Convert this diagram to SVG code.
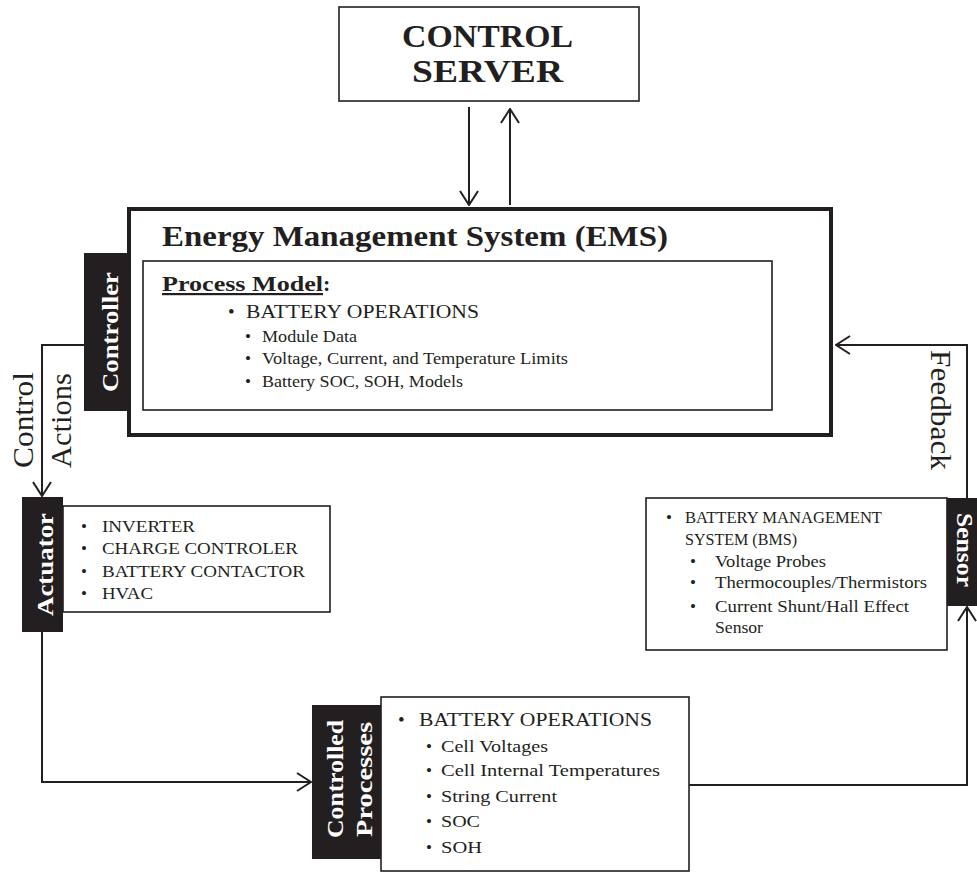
<svg xmlns="http://www.w3.org/2000/svg" width="977" height="873" viewBox="0 0 977 873">
<style>
text{font-family:"Liberation Serif","Times New Roman",serif;fill:#231f20}
.box{fill:#fff;stroke:#231f20;stroke-width:1.6}
.tab{fill:#231f20}
.tt{font-weight:bold;fill:#fff;font-size:23px}
.li{font-size:17px}
.lb{font-size:19px}
.con{fill:none;stroke:#231f20;stroke-width:2}
.lbl{font-size:29px}
</style>
<defs>
<marker id="arr" viewBox="0 0 16 20" refX="15" refY="10" markerWidth="16" markerHeight="20" markerUnits="userSpaceOnUse" orient="auto">
<path d="M1,1 L15,10 L1,19" fill="none" stroke="#231f20" stroke-width="2"/>
</marker>
</defs>

<g id="connectors">
<line class="con" x1="469" y1="107" x2="469" y2="205" marker-end="url(#arr)"/>
<line class="con" x1="510" y1="205" x2="510" y2="109" marker-end="url(#arr)"/>
<polyline class="con" points="84,345 42,345 42,496" marker-end="url(#arr)"/>
<polyline class="con" points="42,632 42,782 311,782" marker-end="url(#arr)"/>
<polyline class="con" points="689,785 967,785 967,607" marker-end="url(#arr)"/>
<polyline class="con" points="967,498 967,345 836,345" marker-end="url(#arr)"/>
<text class="lbl" transform="translate(33,468) rotate(-90)" textLength="96" lengthAdjust="spacingAndGlyphs">Control</text>
<text class="lbl" transform="translate(71,468) rotate(-90)" textLength="95" lengthAdjust="spacingAndGlyphs">Actions</text>
<text class="lbl" transform="translate(931,350) rotate(90)" textLength="120" lengthAdjust="spacingAndGlyphs">Feedback</text>
</g>

<g id="control-server">
<rect class="box" x="339" y="7" width="300" height="94"/>
<text x="402" y="47" font-size="31" font-weight="bold" textLength="171" lengthAdjust="spacingAndGlyphs">CONTROL</text>
<text x="412" y="82" font-size="31" font-weight="bold" textLength="151" lengthAdjust="spacingAndGlyphs">SERVER</text>
</g>

<g id="ems">
<rect x="129" y="209" width="702" height="226" fill="#fff" stroke="#231f20" stroke-width="4"/>
<text x="162" y="246" font-size="29" font-weight="bold" textLength="506" lengthAdjust="spacingAndGlyphs">Energy Management System (EMS)</text>
<rect class="box" x="143" y="261" width="629" height="149"/>
<text x="162" y="291" font-size="22" font-weight="bold" textLength="161" lengthAdjust="spacingAndGlyphs" text-decoration="underline">Process Model</text>
<text x="323" y="291" font-size="22" font-weight="bold">:</text>
<text class="lb" x="228" y="318">•</text>
<text class="lb" x="246" y="318" textLength="233" lengthAdjust="spacingAndGlyphs">BATTERY OPERATIONS</text>
<text class="li" x="245" y="342">•</text>
<text class="li" x="262" y="342" textLength="95" lengthAdjust="spacingAndGlyphs">Module Data</text>
<text class="li" x="245" y="364">•</text>
<text class="li" x="262" y="364" textLength="306" lengthAdjust="spacingAndGlyphs">Voltage, Current, and Temperature Limits</text>
<text class="li" x="245" y="387">•</text>
<text class="li" x="262" y="387" textLength="201" lengthAdjust="spacingAndGlyphs">Battery SOC, SOH, Models</text>
</g>

<g id="controller">
<rect class="tab" x="84" y="253" width="45" height="158"/>
<text class="tt" transform="translate(118,392) rotate(-90)" textLength="120" lengthAdjust="spacingAndGlyphs">Controller</text>
</g>

<g id="actuator">
<rect class="box" x="63" y="506" width="267" height="106"/>
<rect class="tab" x="22" y="497" width="41" height="135"/>
<text class="tt" font-size="21" transform="translate(53,616) rotate(-90)" textLength="103" lengthAdjust="spacingAndGlyphs">Actuator</text>
<text class="li" x="81" y="532">•</text>
<text class="li" x="102" y="532" textLength="93" lengthAdjust="spacingAndGlyphs">INVERTER</text>
<text class="li" x="81" y="554">•</text>
<text class="li" x="102" y="554" textLength="196" lengthAdjust="spacingAndGlyphs">CHARGE CONTROLER</text>
<text class="li" x="81" y="577">•</text>
<text class="li" x="102" y="577" textLength="203" lengthAdjust="spacingAndGlyphs">BATTERY CONTACTOR</text>
<text class="li" x="81" y="599">•</text>
<text class="li" x="102" y="599" textLength="51" lengthAdjust="spacingAndGlyphs">HVAC</text>
</g>

<g id="controlled-processes">
<rect class="box" x="381" y="697" width="308" height="174"/>
<rect class="tab" x="312" y="705" width="69" height="154"/>
<text class="tt" transform="translate(343,838) rotate(-90)" textLength="118" lengthAdjust="spacingAndGlyphs">Controlled</text>
<text class="tt" transform="translate(372,837) rotate(-90)" textLength="115" lengthAdjust="spacingAndGlyphs">Processes</text>
<text class="lb" x="398" y="726">•</text>
<text class="lb" x="419" y="726" textLength="233" lengthAdjust="spacingAndGlyphs">BATTERY OPERATIONS</text>
<text class="li" font-size="18" x="426" y="752">•</text>
<text class="li" font-size="18" x="441" y="752" textLength="107" lengthAdjust="spacingAndGlyphs">Cell Voltages</text>
<text class="li" font-size="18" x="426" y="776">•</text>
<text class="li" font-size="18" x="441" y="776" textLength="219" lengthAdjust="spacingAndGlyphs">Cell Internal Temperatures</text>
<text class="li" font-size="18" x="426" y="802">•</text>
<text class="li" font-size="18" x="441" y="802" textLength="116" lengthAdjust="spacingAndGlyphs">String Current</text>
<text class="li" font-size="18" x="426" y="827">•</text>
<text class="li" font-size="18" x="441" y="827" textLength="39" lengthAdjust="spacingAndGlyphs">SOC</text>
<text class="li" font-size="18" x="426" y="853">•</text>
<text class="li" font-size="18" x="441" y="853" textLength="41" lengthAdjust="spacingAndGlyphs">SOH</text>
</g>

<g id="sensor">
<rect class="box" x="646" y="498" width="301" height="152"/>
<rect class="tab" x="947" y="498" width="30" height="108"/>
<text class="tt" font-size="21" transform="translate(957,513) rotate(90)" textLength="74" lengthAdjust="spacingAndGlyphs">Sensor</text>
<text class="li" font-size="15" x="666" y="523">•</text>
<text class="li" font-size="15" x="685" y="523" textLength="197" lengthAdjust="spacingAndGlyphs">BATTERY MANAGEMENT</text>
<text class="li" font-size="15" x="685" y="545" textLength="112" lengthAdjust="spacingAndGlyphs">SYSTEM (BMS)</text>
<text class="li" font-size="18" x="690" y="567">•</text>
<text class="li" font-size="18" x="715" y="567" textLength="111" lengthAdjust="spacingAndGlyphs">Voltage Probes</text>
<text class="li" font-size="18" x="690" y="588">•</text>
<text class="li" font-size="18" x="715" y="588" textLength="212" lengthAdjust="spacingAndGlyphs">Thermocouples/Thermistors</text>
<text class="li" font-size="18" x="690" y="612">•</text>
<text class="li" font-size="18" x="715" y="612" textLength="194" lengthAdjust="spacingAndGlyphs">Current Shunt/Hall Effect</text>
<text class="li" font-size="18" x="715" y="633" textLength="48" lengthAdjust="spacingAndGlyphs">Sensor</text>
</g>
</svg>
